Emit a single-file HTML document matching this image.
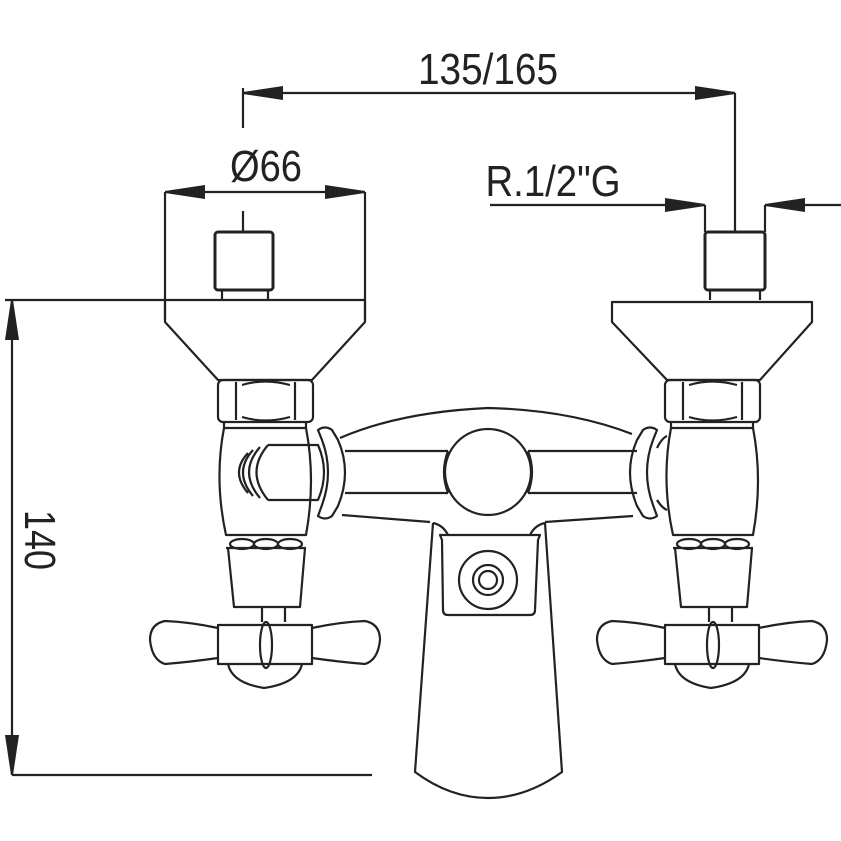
<!DOCTYPE html>
<html><head><style>html,body{margin:0;padding:0;background:#fff}svg{display:block}</style></head>
<body>
<svg width="841" height="841" viewBox="0 0 841 841" xmlns="http://www.w3.org/2000/svg">
<defs>
<marker id="b" viewBox="0 0 40 14" refX="40" refY="7" markerWidth="40" markerHeight="14" markerUnits="userSpaceOnUse" orient="auto-start-reverse"><path d="M0,0 L40,6 L40,8 L0,14 Z" fill="#222"/></marker>
</defs>
<g fill="none" stroke="#222" stroke-width="2.2" stroke-linejoin="round">
<line x1="243" y1="93" x2="735" y2="93" marker-start="url(#b)" marker-end="url(#b)"/>
<line x1="243" y1="88" x2="243" y2="128"/>
<line x1="735" y1="93" x2="735" y2="232"/>
<line x1="165" y1="192" x2="365" y2="192" marker-start="url(#b)" marker-end="url(#b)"/>
<line x1="165" y1="192" x2="165" y2="320"/>
<line x1="365" y1="192" x2="365" y2="320"/>
<line x1="243" y1="211" x2="243" y2="232"/>
<line x1="490" y1="205" x2="705" y2="205" marker-end="url(#b)"/>
<line x1="841" y1="205" x2="765" y2="205" marker-end="url(#b)"/>
<line x1="705" y1="205" x2="705" y2="232"/>
<line x1="765" y1="205" x2="765" y2="232"/>
<line x1="5" y1="300" x2="365" y2="300"/>
<line x1="12" y1="300" x2="12" y2="775" marker-start="url(#b)" marker-end="url(#b)"/>
<line x1="12" y1="775" x2="372" y2="775"/>

<rect x="215" y="232" width="58" height="58" rx="3" stroke-width="3"/>
<path d="M222,290 L222,300 M268,290 L268,300 M218,290 L270,290"/>
<rect x="705" y="232" width="60" height="58" rx="3" stroke-width="3"/>
<path d="M710,290 L710,300 M760,290 L760,300"/>

<path d="M165,300 L165,322 L218,380 L312,380 L365,322 L365,300"/>
<path d="M612,302 L812,302 L812,322 L760,380 L667,380 L612,322 Z"/>

<g id="nut">
<rect x="218" y="380" width="95" height="42" rx="5"/>
<path d="M236,382 L236,420 M295,382 L295,420 M242,385 Q265,378 290,385 M242,417 Q265,424 290,417"/>
<path d="M224,422 L224,428 M306,422 L306,428"/>
</g>
<use href="#nut" x="447"/>

<g id="body">
<path d="M224,428 L306,428 Q316,480 306,535 L226,535 Q214,480 224,428 Z"/>
<line x1="226" y1="548" x2="306" y2="548"/>
<ellipse cx="242" cy="544" rx="12" ry="5"/><ellipse cx="266" cy="544" rx="12" ry="5"/><ellipse cx="290" cy="544" rx="12" ry="5"/>
<path d="M228,548 L234,607 L300,607 L305,548"/>
<path d="M262,607 L262,622 M285,607 L285,622"/>
<path d="M218,625 L218,664 L312,664 L312,625 Z"/>
<path d="M218,628 Q190,622 165,621 Q150,624 150,640 Q152,660 165,664 Q190,662 218,658"/>
<path d="M312,628 Q340,622 365,621 Q380,624 380,640 Q378,660 365,664 Q340,662 312,658"/>
<path d="M228,664 Q232,683 264,688 Q298,683 302,664"/>
<ellipse cx="266" cy="645" rx="6" ry="23"/>
</g>
<use href="#body" x="447"/>

<path d="M268,445 L318,445 Q330,472 318,500 L268,500"/>
<path d="M268,445 Q245,472 268,500 M260,447 Q238,472 260,498 M253,450 Q233,472 253,496 M248,453 Q230,472 248,493"/>

<path d="M318,430 Q325,425 332,430 L338,440 Q352,472 338,506 L332,516 Q325,521 318,516 L322,505 Q334,472 322,440 Z"/>
<path d="M657,430 Q650,425 643,430 L637,440 Q623,472 637,506 L643,516 Q650,521 657,516 L653,505 Q641,472 653,440 Z"/>
<path d="M657,448 Q662,438 667,436 M657,500 Q662,508 667,510"/>

<path d="M340,438 Q400,412 488,408 Q570,410 632,434"/>
<path d="M345,451 L448,451 M528,451 L637,451"/>
<path d="M345,493 L448,493 M528,493 L637,493"/>
<circle cx="488" cy="472" r="43"/>
<path d="M448,451 Q440,472 448,493 M528,451 Q536,472 528,493"/>
<path d="M342,515 L430,522 M545,522 L633,516"/>
<path d="M433,523 L415,772 Q450,798 488,798 Q526,798 562,772 L545,523"/>
<path d="M433,523 Q443,525 448,535 M545,523 Q535,525 530,535"/>
<path d="M440,535 L540,535 L538,540 L535,610 Q535,615 530,615 L448,615 Q443,615 443,610 L442,540 Z"/>
<circle cx="488" cy="580" r="29"/>
<circle cx="488" cy="580" r="15"/>
<circle cx="488" cy="580" r="9"/>
</g>
<g font-family="'Liberation Sans Narrow','Liberation Sans',sans-serif" font-size="44" fill="#222">
<text x="488" y="84" text-anchor="middle" textLength="140" lengthAdjust="spacingAndGlyphs">135/165</text>
<text x="266" y="181" text-anchor="middle" textLength="72" lengthAdjust="spacingAndGlyphs">Ø66</text>
<text x="553" y="196" text-anchor="middle" textLength="135" lengthAdjust="spacingAndGlyphs">R.1/2"G</text>
<text transform="translate(25,540) rotate(90)" text-anchor="middle" textLength="60" lengthAdjust="spacingAndGlyphs">140</text>
</g>
</svg>
</body></html>
